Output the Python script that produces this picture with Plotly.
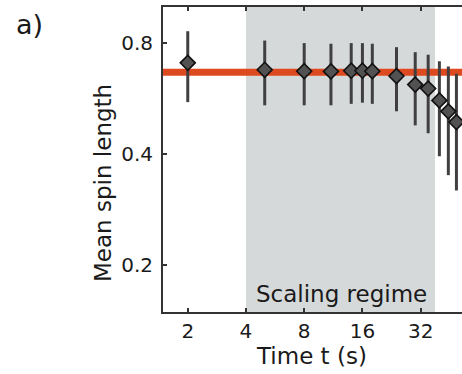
import plotly.graph_objects as go

# Measured mean spin length vs time, with asymmetric uncertainty bounds
time_s = [2, 5, 8, 11, 14, 16, 18, 24, 30, 35, 40, 44.5, 49]
mean_len = [0.707, 0.677, 0.671, 0.670, 0.673, 0.673, 0.671, 0.651, 0.617, 0.602, 0.559, 0.522, 0.488]
upper_len = [0.862, 0.813, 0.800, 0.797, 0.800, 0.800, 0.797, 0.780, 0.756, 0.744, 0.714, 0.691, 0.661]
lower_len = [0.553, 0.542, 0.542, 0.542, 0.547, 0.551, 0.547, 0.522, 0.478, 0.455, 0.394, 0.350, 0.318]

plateau = 0.667          # fitted plateau value
scaling_window = [4, 38]  # time window of the scaling regime

x_ticks = [2, 4, 8, 16, 32]
y_ticks = [0.2, 0.4, 0.8]

err_plus = [u - m for u, m in zip(upper_len, mean_len)]
err_minus = [m - l for m, l in zip(mean_len, lower_len)]

FONT = "DejaVu Sans"
INK = "#1a1a1a"

fig = go.Figure()

fig.add_trace(go.Scatter(
    x=time_s, y=mean_len, mode="markers",
    marker=dict(symbol="diamond", size=11.5, color="#525252",
                line=dict(color="#111111", width=1.6)),
    error_y=dict(type="data", symmetric=False, array=err_plus, arrayminus=err_minus,
                 color="#404040", thickness=3, width=0),
    showlegend=False,
))

# shaded scaling-regime window
fig.add_shape(type="rect", xref="x", yref="y domain",
              x0=scaling_window[0], x1=scaling_window[1], y0=0, y1=1,
              fillcolor="#d6d9da", line=dict(width=0), layer="below")
# plateau line
fig.add_shape(type="line", xref="x domain", yref="y",
              x0=0, x1=1, y0=plateau, y1=plateau,
              line=dict(color="#de4a1f", width=7), layer="below")

fig.update_xaxes(type="log", range=[0.173, 1.719],
                 tickvals=x_ticks, ticktext=[str(v) for v in x_ticks],
                 ticks="inside", ticklen=4, tickwidth=1.5, tickcolor="#333333",
                 showline=True, linecolor="#333333", linewidth=2, mirror="ticks",
                 showgrid=False, zeroline=False,
                 tickfont=dict(family=FONT, size=20, color=INK))
fig.update_yaxes(type="log", range=[-0.828, 0.0013],
                 tickvals=y_ticks, ticktext=[str(v) for v in y_ticks],
                 ticks="inside", ticklen=4, tickwidth=1.5, tickcolor="#333333",
                 showline=True, linecolor="#333333", linewidth=2, mirror=False,
                 showgrid=False, zeroline=False, ticklabelstandoff=4,
                 tickfont=dict(family=FONT, size=20, color=INK))

labels = [
    dict(text="Scaling regime", x=0.598, y=0.06, size=23, angle=0),
    dict(text="Time t (s)", x=0.4975, y=-0.1435, size=23, angle=0),
    dict(text="Mean spin length", x=-0.1987, y=0.4217, size=23, angle=-90),
    dict(text="a)", x=-0.446, y=0.943, size=27, angle=0),
]
for lb in labels:
    fig.add_annotation(text=lb["text"], xref="paper", yref="paper",
                       x=lb["x"], y=lb["y"], xanchor="center", yanchor="middle",
                       textangle=lb["angle"], showarrow=False,
                       font=dict(family=FONT, size=lb["size"], color=INK))

fig.update_layout(width=462, height=374,
                  margin=dict(l=162.5, r=0, t=6.5, b=62.3),
                  paper_bgcolor="white", plot_bgcolor="white")

fig.write_html("out.html")
